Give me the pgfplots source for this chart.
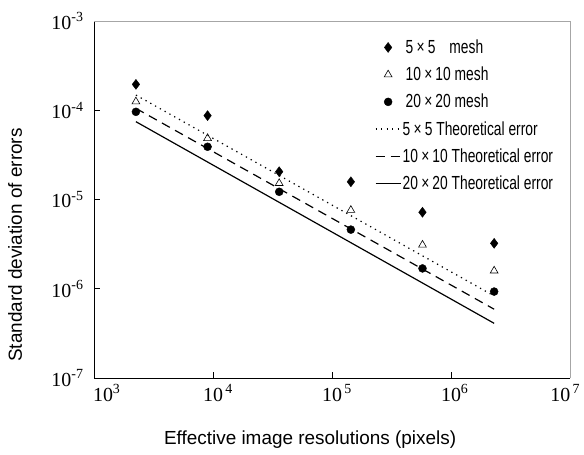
\documentclass[border=0pt]{standalone}
\usepackage{fontspec}
\setmainfont{Liberation Serif}
\newfontfamily\labfont{Liberation Sans}
\newfontfamily\legfont[FakeStretch=0.73]{Liberation Sans}
\usepackage{pgfplots}
\pgfplotsset{compat=1.18}
\newcommand{\tl}[1]{10\rlap{\textsuperscript{#1}}}
\begin{document}
\begin{tikzpicture}
\begin{axis}[
  scale only axis,
  width=476bp, height=357bp,
  xmode=log, ymode=log,
  xmin=1e3, xmax=1e7, ymin=1e-7, ymax=1e-3,
  axis lines=left,
  axis line style={-, black, line width=0.9pt},
  tick align=inside,
  xtick={1e3,1e4,1e5,1e6,1e7},
  ytick={1e-7,1e-6,1e-5,1e-4,1e-3},
  xticklabels={\hspace{18bp}\tl{3},\tl{\,4},\tl{\,5},\tl{6},\makebox[0pt][r]{10\textsuperscript{\,7}\hspace{-10bp}}},
  yticklabels={10\textsuperscript{-7},10\textsuperscript{-6},10\textsuperscript{-5},10\textsuperscript{-4},10\textsuperscript{-3}},
  xminorticks=false, yminorticks=false,
  major tick length=6bp,
  tick style={black, line width=0.6pt},
  ticklabel style={font=\fontsize{20}{20}\selectfont},
  xticklabel style={anchor=north, yshift=-3bp},
  yticklabel style={anchor=east, xshift=-7bp},
  every axis x label/.style={at={(rel axis cs:0.454,0)}, anchor=center, yshift=-62bp},
  every axis y label/.style={at={(rel axis cs:0,0.3725)}, xshift=-79bp, rotate=90, anchor=center},
  xlabel={Effective image resolutions (pixels)},
  ylabel={Standard deviation of errors},
  label style={font=\labfont\fontsize{19}{19}\selectfont},
  legend style={draw=none, fill=none, at={(0.590,0.952)}, anchor=north west,
    font=\legfont\fontsize{19}{19}\selectfont, row sep=9bp,
    inner sep=0pt, nodes={inner sep=1.5bp}},
  legend cell align=left,
  legend image code/.code={\draw[mark repeat=2,mark phase=2,#1] plot coordinates {(0bp,0bp) (12.5bp,0bp) (25bp,0bp)};},
  clip=false,
]
\draw[gray!70, line width=0.8pt] (rel axis cs:0,1) -- (rel axis cs:1,1) -- (rel axis cs:1,0);
\addplot[only marks, mark=diamond*, mark size=5bp, black] coordinates {
 (2250,1.95e-4) (9000,8.7e-5) (36000,2.05e-5) (144000,1.58e-5) (576000,7.2e-6) (2304000,3.23e-6)};
\addlegendentry{\hspace{3bp}5\,×\,5\hspace{14bp}mesh}
\addplot[only marks, mark=triangle, mark size=4.5bp, black, mark options={fill=white, line width=0.6pt}] coordinates {
 (2250,1.25e-4) (9000,4.85e-5) (36000,1.52e-5) (144000,7.6e-6) (576000,3.1e-6) (2304000,1.59e-6)};
\addlegendentry{\hspace{3bp}10\,×\,10 mesh}
\addplot[only marks, mark=*, mark size=4bp, black] coordinates {
 (2250,9.6e-5) (9000,3.9e-5) (36000,1.22e-5) (144000,4.6e-6) (576000,1.69e-6) (2304000,9.3e-7)};
\addlegendentry{\hspace{3bp}20\,×\,20 mesh}
\addplot[black, line width=1.2pt, dash pattern=on 1.3pt off 4.2pt] coordinates {
 (2250,1.48e-4) (2304000,8.3e-7)};
\addlegendentry{5\,×\,5 Theoretical error}
\addplot[black, line width=1.2pt, dash pattern=on 9pt off 6pt] coordinates {
 (2250,1.05e-4) (2304000,5.9e-7)};
\addlegendentry{10\,×\,10 Theoretical error}
\addplot[black, line width=1.2pt] coordinates {
 (2250,7.45e-5) (2304000,4.1e-7)};
\addlegendentry{20\,×\,20 Theoretical error}
\end{axis}
\path[use as bounding box] ([shift={(-94bp,-76bp)}]current axis.south west) rectangle ([shift={(14bp,21bp)}]current axis.north east);
\end{tikzpicture}
\end{document}
